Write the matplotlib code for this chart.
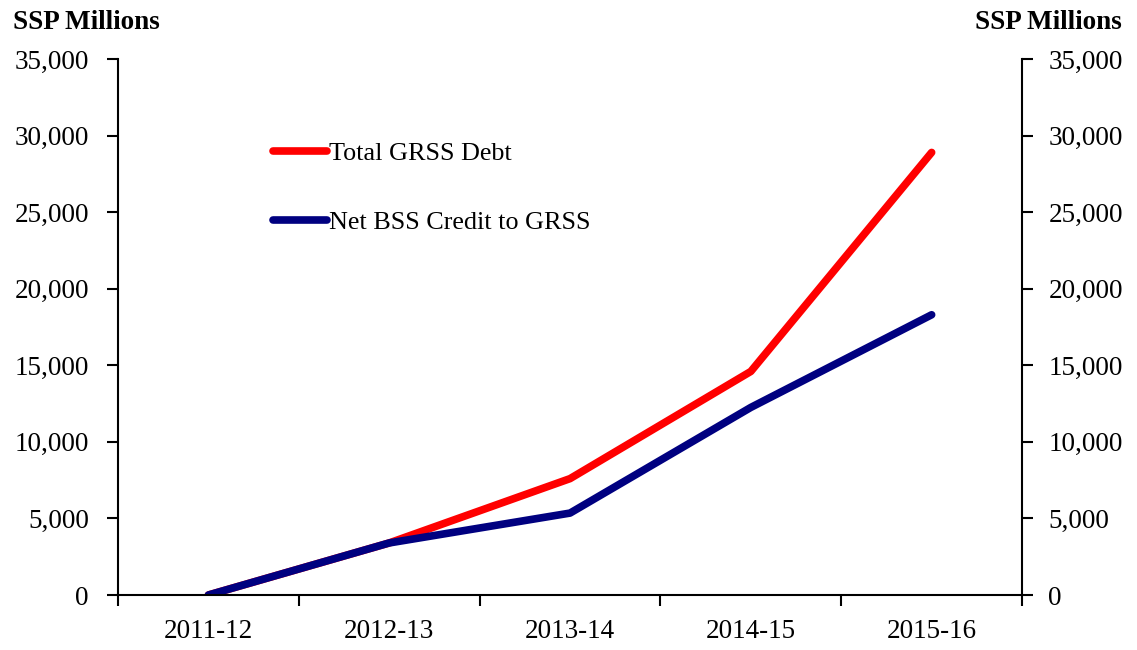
import numpy as np
import matplotlib.pyplot as plt
from matplotlib.ticker import FuncFormatter, FixedLocator

plt.rcParams['font.family'] = ['Liberation Serif', 'DejaVu Serif']

years = ['2011-12', '2012-13', '2013-14', '2014-15', '2015-16']
total_debt = [0, 3400, 7600, 14600, 28900]
net_bss_credit = [0, 3400, 5350, 12250, 18300]

FS = 19.5

fig = plt.figure(figsize=(11.37, 6.5), dpi=100)
ax = fig.add_axes([0.1038, 0.0846, 0.7951, 0.8246])

x = np.arange(len(years))
ax.plot(x, total_debt, color='#FF0000', lw=5.5, solid_capstyle='round',
        solid_joinstyle='round', label='Total GRSS Debt')
ax.plot(x, net_bss_credit, color='#000080', lw=5.5, solid_capstyle='round',
        solid_joinstyle='round', label='Net BSS Credit to GRSS')

ax.set_xlim(-0.5, len(years) - 0.5)
ax.set_ylim(0, 35000)
ax.set_yticks(np.arange(0, 35001, 5000))
fmt = FuncFormatter(lambda v, p: f'{int(v):,}')
ax.yaxis.set_major_formatter(fmt)

# ticks between categories, labels centred
ax.xaxis.set_major_locator(FixedLocator(np.arange(-0.5, len(years), 1.0)))
ax.xaxis.set_minor_locator(FixedLocator(x))
ax.set_xticklabels([], minor=False)
ax.set_xticks(x, years, minor=True)
ax.tick_params(axis='x', which='major', direction='out', length=8, width=1.5)
ax.tick_params(axis='x', which='minor', length=0, pad=17, labelsize=FS)
ax.tick_params(axis='y', direction='out', length=8, width=1.5, pad=13, labelsize=FS)

ax.spines['top'].set_visible(False)
ax.spines['right'].set_visible(False)
for s in ['left', 'bottom']:
    ax.spines[s].set_linewidth(1.5)

ax2 = ax.twinx()
ax2.set_ylim(ax.get_ylim())
ax2.set_yticks(np.arange(0, 35001, 5000))
ax2.yaxis.set_major_formatter(fmt)
ax2.tick_params(axis='y', direction='out', length=8, width=1.5, pad=11, labelsize=FS)
for s in ['top', 'left', 'bottom']:
    ax2.spines[s].set_visible(False)
ax2.spines['right'].set_linewidth(1.5)

leg = ax.legend(loc='upper left', bbox_to_anchor=(0.16, 0.865), frameon=False,
                fontsize=FS - 0.7, handlelength=2.05, handletextpad=0.1, labelspacing=1.75,
                borderaxespad=0)

fig.text(0.011, 0.965, 'SSP Millions', fontsize=FS, fontweight='bold', va='center', ha='left')
fig.text(0.987, 0.965, 'SSP Millions', fontsize=FS, fontweight='bold', va='center', ha='right')

fig.savefig('out.png', dpi=100)
